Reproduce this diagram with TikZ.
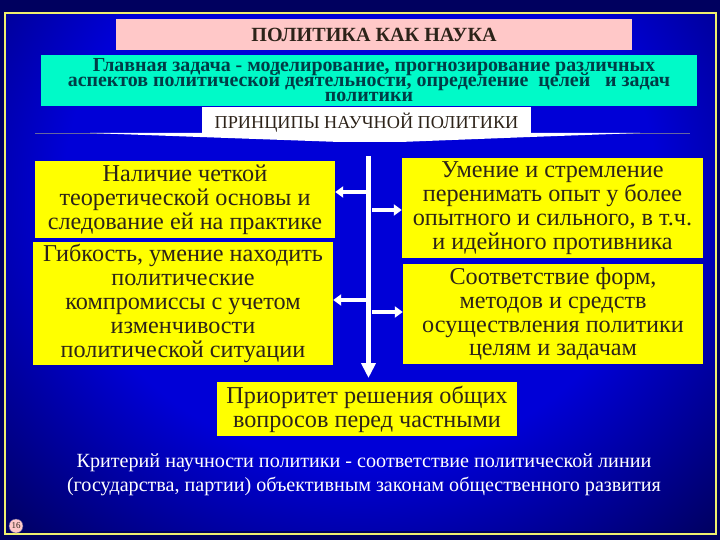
\documentclass[tikz,border=0pt]{standalone}
\usepackage{fontspec}
\setmainfont{Liberation Serif}
\usetikzlibrary{arrows.meta}
\definecolor{navy}{RGB}{0,0,95}
\definecolor{deepblue}{RGB}{0,0,215}
\definecolor{framey}{RGB}{240,240,110}
\definecolor{pinkbox}{RGB}{255,200,200}
\definecolor{tealbox}{RGB}{0,250,200}
\definecolor{tealtext}{RGB}{0,60,70}
\definecolor{boxy}{RGB}{255,255,0}
\definecolor{inktext}{RGB}{45,35,25}
\pgfdeclareradialshading{bluebg}{\pgfpoint{0bp}{0bp}}{color(0bp)=(deepblue); color(20bp)=(deepblue); color(35bp)=(navy); color(50bp)=(navy)}
\newcommand{\tightlines}{\setlength{\lineskiplimit}{-20pt}\setlength{\lineskip}{0pt}}
\tikzset{
    principle/.style={fill=boxy, text=inktext, font=\fontsize{24.3}{24}\selectfont, align=center, inner sep=0pt, minimum height=#1, execute at begin node=\rule{0pt}{21bp}},
    whitearrow/.style={draw=white, line width=4pt, -{Triangle[length=8pt,width=11pt]}},
    spinearrow/.style={draw=white, line width=5pt, -{Triangle[length=15pt,width=14pt]}},
}
\begin{document}
\begin{tikzpicture}[x=1bp, y=-1bp]
    \useasboundingbox (0,0) rectangle (720,540);
    % Sfondo
    \fill[navy] (0,0) rectangle (720,540);
    \begin{scope}
        \clip (5,13) rectangle (716,534);
        \shade[shading=bluebg] (-10,-150) rectangle (730,530);
    \end{scope}
    \draw[framey, line width=2pt] (5,13) rectangle (716,534);

    % Linea orizzontale sotto i principi
    \draw[navy!60!white, line width=0.8pt] (35,133) -- (690,133);
    \fill[white] (90,133) -- (640,133) -- (530,137) -- (400,142) -- (340,142) -- (200,137) -- cycle;

    % Riquadri superiori
    \node[fill=pinkbox, text=inktext, font=\fontsize{20.2}{22}\selectfont\bfseries, minimum width=516bp, minimum height=31bp, inner sep=0pt] (title) at (374,34.5) {ПОЛИТИКА КАК НАУКА};
    \node[fill=tealbox, text=tealtext, font=\fontsize{20}{15}\selectfont\bfseries\tightlines, align=center, minimum width=656bp, minimum height=51bp, inner sep=0pt] (task) at (369,80.5) {\hspace*{10bp}Главная задача - моделирование, прогнозирование различных\\аспектов политической деятельности, определение\ \ целей\ \ \ и задач\\политики};
    \node[fill=white, text=inktext, font=\fontsize{18.3}{20}\selectfont, minimum width=329bp, minimum height=30bp, inner sep=0pt, execute at begin node=\rule{0pt}{17bp}] (head) at (366.5,122) {ПРИНЦИПЫ НАУЧНОЙ ПОЛИТИКИ};

    % Principi a sinistra e a destra
    \node[principle=77bp, minimum width=300bp] (left1) at (185,199.5) {Наличие четкой\\теоретической основы и\\следование ей на практике};
    \node[principle=123bp, minimum width=300bp] (left2) at (183,303.5) {Гибкость, умение находить\\политические\\компромиссы с учетом\\изменчивости\\политической ситуации};
    \node[principle=100bp, minimum width=301bp] (right1) at (552.5,208) {Умение и стремление\\перенимать опыт у более\\опытного и сильного, в т.ч.\\и идейного противника};
    \node[principle=100bp, minimum width=300bp] (right2) at (553,314) {Соответствие форм,\\методов и средств\\осуществления политики\\целям и задачам};
    \node[principle=54bp, minimum width=300bp] (last) at (367,409) {Приоритет решения общих\\вопросов перед частными};

    % Testo finale
    \node[text=white, font=\fontsize{20.2}{24}\selectfont, align=center, inner sep=0pt] (rule) at (364,475) {Критерий научности политики - соответствие политической линии\\(государства, партии) объективным законам общественного развития};

    % Numero di pagina
    \node[circle, fill=pinkbox, draw=navy!70!white, text=inktext, font=\fontsize{9}{9}\selectfont, inner sep=0pt, minimum size=14bp] (page) at (16,526) {16};

    % Frecce
    \coordinate (top) at (368.5,156);
    \coordinate (bottom) at (368.5,378);
    \draw[spinearrow] (top) -- (bottom);
    \foreach \y/\target in {192/left1, 300/left2} {
        \coordinate (s\target) at (367,\y);
        \draw[whitearrow] (s\target) -- (\target.east |- s\target);
    }
    \foreach \y/\target in {210/right1, 312/right2} {
        \coordinate (s\target) at (372,\y);
        \draw[whitearrow] (s\target) -- (\target.west |- s\target);
    }
\end{tikzpicture}
\end{document}
